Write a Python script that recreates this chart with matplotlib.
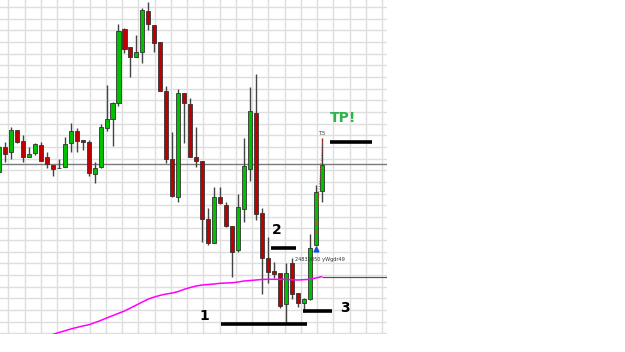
import numpy as np
import matplotlib
matplotlib.use("Agg")
from matplotlib import pyplot as plt

# candle prices (chart points), oldest first
opens = [162, 187, 182, 204, 193, 177, 181, 189, 177, 169, 166, 167, 191, 203, 194, 192,
         160, 167, 206, 215, 231, 305, 287, 277, 282, 323, 309, 292, 243, 175, 137, 241,
         230, 177, 173, 115, 91, 137, 129, 108, 84, 125, 165, 221, 121, 76, 63, 61,
         30, 71, 41, 31, 35, 89, 143]
highs = [189, 192, 207, 204, 199, 187, 191, 192, 182, 169, 175, 197, 211, 206, 194, 194,
         172, 210, 249, 232, 310, 306, 287, 299, 326, 332, 309, 292, 248, 202, 245, 241,
         236, 207, 173, 126, 147, 147, 132, 108, 140, 196, 247, 260, 126, 97, 72, 61,
         71, 76, 41, 36, 100, 149, 196]
lows = [162, 172, 175, 191, 172, 177, 179, 173, 166, 158, 166, 167, 182, 182, 184, 158,
        151, 166, 203, 188, 228, 281, 257, 277, 271, 304, 282, 243, 171, 137, 132, 191,
        177, 167, 92, 89, 91, 130, 107, 57, 82, 112, 153, 114, 40, 51, 56, 26,
        11, 35, 27, 22, 34, 88, 132]
closes = [187, 180, 204, 192, 177, 180, 190, 173, 170, 165, 165.6, 190, 203, 193, 192, 161,
          166, 207, 215, 231, 303, 285, 277, 282, 324, 310, 291, 243, 175, 138, 241, 231,
          177, 173, 115, 91, 137, 131, 108, 82, 127, 168, 223, 120, 76, 62, 60, 28,
          61, 40, 31, 35, 86, 142, 169]

# moving average, starting at candle 9
ma_start = 9
ma = [-0.5, 1.5, 3.2, 5, 6.5, 8, 9.2, 11.3, 13.5, 16, 18.3, 20.7, 23, 26, 29, 32, 35, 37,
      38.7, 40, 41, 42.5, 44.7, 46.5, 48, 49, 49.5, 50, 50.7, 51, 51.2, 52, 53, 53.5, 54,
      54.5, 54.7, 54.7, 54.7, 54.7, 54.3, 54, 54.3, 54.7, 56, 57.3]

price_line = 169.7
ma_line = 57

# hand drawn levels: (label, price, from candle, to candle, label x, label y)
levels = [("1", 10.3, 37.1, 51.5, 34.3, 18),
          ("2", 86.3, 45.6, 49.7, 46.5, 104),
          ("3", 23, 50.9, 55.8, 57.9, 26)]
tp_level = (192.3, 55.4, 62.5)

o = np.array(opens, float)
h = np.array(highs, float)
l = np.array(lows, float)
c = np.array(closes, float)
idx = np.arange(len(o))

fig = plt.figure(figsize=(6.25, 3.52), dpi=100)
ax = fig.add_axes([0, 18 / 352, 387 / 625, 334 / 352])

ax.set_xlim(0.167, 64.94)
ax.set_ylim(0, 334)
ax.set_xticks(np.arange(1.556, 65, 2.7197))
ax.set_yticks(np.arange(0.7, 334, 11.65))
ax.grid(True, color="#dedede", lw=1)
ax.tick_params(length=0, labelbottom=False, labelleft=False)
for s in ax.spines.values():
    s.set_visible(False)
ax.set_axisbelow(True)

ax.axhline(price_line, color="#7a7a7a", lw=1, zorder=2)
ax.hlines(ma_line, idx[-1], 64.94, color="#555555", lw=0.9, zorder=2)

up = c >= o
col = np.where(up, "#00c000", "#c00000")
ax.vlines(idx, l, h, color="#444444", lw=1, zorder=3)
body = np.maximum(np.abs(c - o), 0.8)
ax.bar(idx, body, bottom=np.minimum(o, c), width=0.68, color=col,
       edgecolor="#333333", linewidth=0.6, zorder=4)

ax.plot(np.arange(ma_start, ma_start + len(ma)), ma, color="#ff00ff", lw=1.1, zorder=5)

# trade marks
ax.plot([52.9, 54.2], [88, 196], color="#ff3333", lw=0.7, ls=":", zorder=6)
ax.plot([53], [85], marker="^", color="#1a4fd8", ms=3.5, zorder=6)
ax.text(49.6, 75, "24830050 yWgdr49", fontsize=3.6, color="#333333", va="center", zorder=6)
ax.text(54.0, 198, "T.5", fontsize=3.6, color="#333333", ha="center", va="bottom", zorder=6)

for lab, y, x0, x1, tx, ty in levels:
    ax.hlines(y, x0, x1, color="black", lw=2.6, zorder=6)
    ax.text(tx, ty, lab, fontsize=10, fontweight="bold", color="black",
            ha="center", va="center", zorder=7)

ax.hlines(tp_level[0], tp_level[1], tp_level[2], color="black", lw=2.6, zorder=6)
ax.text(57.6, 216, "TP!", fontsize=10, fontweight="bold", color="#2db34a",
        ha="center", va="center", zorder=7)

fig.savefig("out.png", dpi=100)
